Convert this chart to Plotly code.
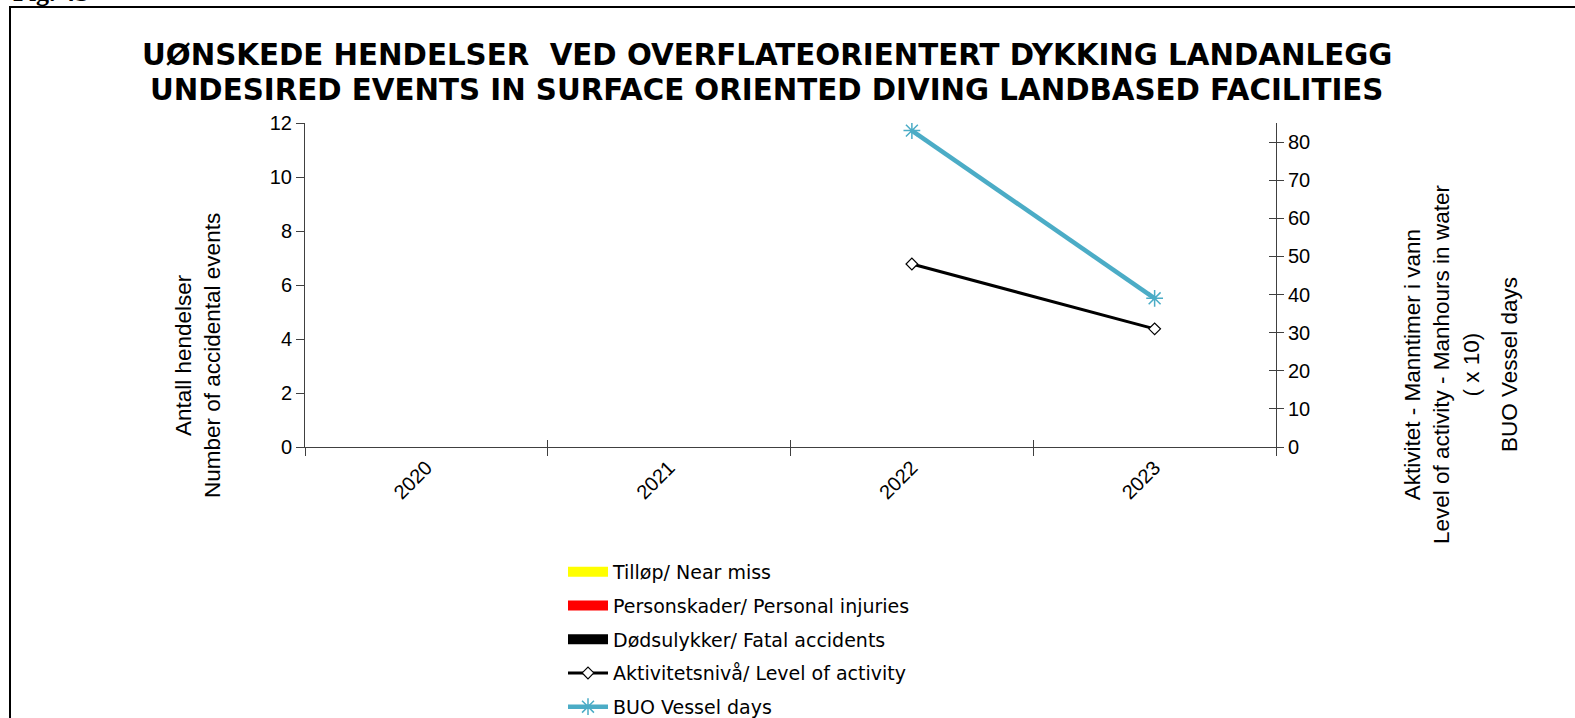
import plotly.graph_objects as go

# ---- data ----
years = ["2020", "2021", "2022", "2023"]
near_miss = [0, 0, 0, 0]
personal_injuries = [0, 0, 0, 0]
fatal_accidents = [0, 0, 0, 0]
activity_years = ["2022", "2023"]
activity_level = [48, 31]
vessel_years = ["2022", "2023"]
vessel_days = [83, 39]

title_l1 = "UØNSKEDE HENDELSER \u00a0VED OVERFLATEORIENTERT DYKKING LANDANLEGG"
title_l2 = "UNDESIRED EVENTS IN SURFACE ORIENTED DIVING LANDBASED FACILITIES"
left_title = "Antall hendelser<br>Number of accidental events"
right_title = "Aktivitet - Manntimer i vann<br>Level of activity - Manhours in water<br>( x 10)"
right_title2 = "BUO Vessel days"

bar_names = ["Tilløp/ Near miss", "Personskader/ Personal injuries", "Dødsulykker/ Fatal accidents"]
bar_colors = ["#FFFF00", "#FF0000", "#000000"]
bar_values = [near_miss, personal_injuries, fatal_accidents]

W, H = 1575, 718
L, R, T, B = 305, 1276, 123, 447
pw, ph = R - L, B - T


def px(x):
    return (x - L) / pw


def py(y):
    return (B - y) / ph


fig = go.Figure()

for i, (nm, col, vals) in enumerate(zip(bar_names, bar_colors, bar_values)):
    # data bars (all zero)
    fig.add_trace(go.Bar(x=years, y=vals, name=nm, showlegend=False,
                         marker=dict(color=col, line=dict(width=0)),
                         legendgroup="g%d" % i))
    # legend swatch for the bar series
    fig.add_trace(go.Scatter(x=[None], y=[None], name=nm, mode="lines",
                             line=dict(color=col, width=10),
                             legendgroup="g%d" % i, hoverinfo="skip"))

fig.add_trace(go.Scatter(x=activity_years, y=activity_level, name="Aktivitetsnivå/ Level of activity",
                         mode="lines+markers", yaxis="y2",
                         line=dict(color="black", width=3),
                         marker=dict(symbol="diamond", size=9, color="white",
                                     line=dict(color="black", width=1.2)),
                         legendgroup="g3"))
fig.add_trace(go.Scatter(x=vessel_years, y=vessel_days, name="BUO Vessel days",
                         mode="lines+markers", yaxis="y2",
                         line=dict(color="#4BACC6", width=4.5),
                         marker=dict(symbol="asterisk-open", size=14, color="#4BACC6",
                                     line=dict(color="#4BACC6", width=1.5)),
                         legendgroup="g4"))
# helper trace so the overlaid tick-only axes are drawn
fig.add_trace(go.Scatter(x=[None], y=[None], xaxis="x2", yaxis="y3", showlegend=False,
                         hoverinfo="skip"))

tickfont = dict(family="Liberation Sans, Arial", size=20, color="black")
axcol = "#404040"

fig.update_layout(
    width=W, height=H,
    margin=dict(l=L, r=W - R, t=T, b=H - B, autoexpand=False),
    paper_bgcolor="white", plot_bgcolor="white",
    barmode="group",
    showlegend=True,
    font=dict(family="DejaVu Sans, Verdana", color="black"),
    xaxis=dict(type="category", categoryorder="array", categoryarray=years,
               range=[-0.5, 3.5], tickson="boundaries", ticks="outside", ticklen=8,
               tickcolor=axcol, tickwidth=1, showline=True, linecolor=axcol,
               linewidth=1, showgrid=False, zeroline=False, tickangle=-45,
               tickfont=tickfont),
    xaxis2=dict(overlaying="x", anchor="y3", side="bottom", range=[-0.5, 3.5],
                tickmode="array", tickvals=[-0.5, 0.5, 1.5, 2.5, 3.5],
                ticks="inside", ticklen=7, tickcolor=axcol, tickwidth=1,
                showticklabels=False, showline=False, showgrid=False, zeroline=False),
    yaxis=dict(range=[0, 12], dtick=2, ticks="outside", ticklen=8, tickcolor=axcol,
               showline=True, linecolor=axcol, linewidth=1, showgrid=False,
               zeroline=False, tickfont=tickfont),
    yaxis2=dict(overlaying="y", side="right", anchor="x", range=[0, 85], dtick=10,
                ticks="outside", ticklen=7, tickcolor=axcol, showline=True,
                linecolor=axcol, linewidth=1, showgrid=False, zeroline=False,
                tickfont=tickfont),
    yaxis3=dict(overlaying="y", side="right", anchor="x2", range=[0, 85], dtick=10,
                ticks="inside", ticklen=7, tickcolor=axcol, showticklabels=False,
                showline=False, showgrid=False, zeroline=False),
    legend=dict(x=px(563), y=py(553), xanchor="left", yanchor="top",
                font=dict(family="DejaVu Sans, Verdana", size=19, color="black"),
                tracegroupgap=6, bgcolor="rgba(0,0,0,0)", itemwidth=40),
)

annotations = [
    dict(text=title_l1, x=px(767), y=py(55), xref="paper", yref="paper",
         showarrow=False, xanchor="center", yanchor="middle",
         font=dict(family="DejaVu Sans, Verdana", size=29.3, color="black", weight="bold")),
    dict(text=title_l2, x=px(766), y=py(90), xref="paper", yref="paper",
         showarrow=False, xanchor="center", yanchor="middle",
         font=dict(family="DejaVu Sans, Verdana", size=29.3, color="black", weight="bold")),
    dict(text=left_title, x=px(198), y=py(356), xref="paper", yref="paper",
         showarrow=False, xanchor="center", yanchor="middle", textangle=-90,
         font=dict(family="Liberation Sans, Arial", size=22.5, color="black")),
    dict(text=right_title, x=px(1442), y=py(365), xref="paper", yref="paper",
         showarrow=False, xanchor="center", yanchor="middle", textangle=-90,
         font=dict(family="Liberation Sans, Arial", size=22.5, color="black")),
    dict(text=right_title2, x=px(1509), y=py(365), xref="paper", yref="paper",
         showarrow=False, xanchor="center", yanchor="middle", textangle=-90,
         font=dict(family="Liberation Sans, Arial", size=22.5, color="black")),
    dict(text="Fig. 4b", x=px(11), y=py(9), xref="paper", yref="paper",
         showarrow=False, xanchor="left", yanchor="bottom",
         font=dict(family="Liberation Serif, Times New Roman", size=26, color="black",
                   weight="bold")),
]
fig.update_layout(annotations=annotations)

fig.add_shape(type="rect", xref="paper", yref="paper",
              x0=px(10), x1=px(1620), y0=py(730), y1=py(7),
              line=dict(color="black", width=2), fillcolor="rgba(0,0,0,0)")

fig.write_html("out.html", config={"displayModeBar": False},
               post_script="document.body.style.margin='0';")
